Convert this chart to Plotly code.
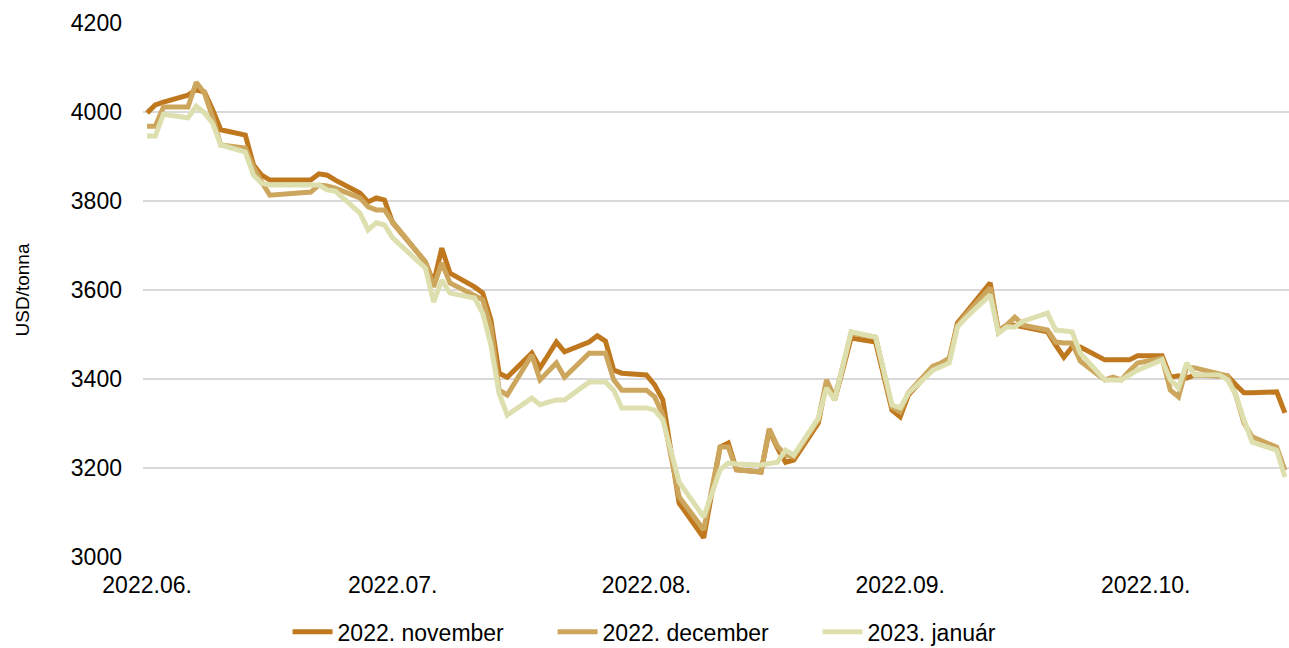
import plotly.graph_objects as go

# Trading days (June - October 2022)
dates = [
    "2022-06-01", "2022-06-02", "2022-06-03", "2022-06-06", "2022-06-07", "2022-06-08", "2022-06-09",
    "2022-06-10", "2022-06-13", "2022-06-14", "2022-06-15", "2022-06-16", "2022-06-21", "2022-06-22",
    "2022-06-23", "2022-06-24", "2022-06-27", "2022-06-28", "2022-06-29", "2022-06-30",
    "2022-07-01", "2022-07-05", "2022-07-06", "2022-07-07", "2022-07-08", "2022-07-11", "2022-07-12",
    "2022-07-13", "2022-07-14", "2022-07-15", "2022-07-18", "2022-07-19", "2022-07-20", "2022-07-21",
    "2022-07-22", "2022-07-25", "2022-07-26", "2022-07-27", "2022-07-28", "2022-07-29",
    "2022-08-01", "2022-08-02", "2022-08-03", "2022-08-04", "2022-08-05", "2022-08-08", "2022-08-09",
    "2022-08-10", "2022-08-11", "2022-08-12", "2022-08-15", "2022-08-16", "2022-08-17", "2022-08-18",
    "2022-08-19", "2022-08-22", "2022-08-23", "2022-08-24", "2022-08-25", "2022-08-26", "2022-08-29",
    "2022-08-30", "2022-08-31",
    "2022-09-01", "2022-09-02", "2022-09-05", "2022-09-06", "2022-09-07", "2022-09-08", "2022-09-09",
    "2022-09-12", "2022-09-13", "2022-09-14", "2022-09-15", "2022-09-16", "2022-09-19", "2022-09-20",
    "2022-09-21", "2022-09-22", "2022-09-23", "2022-09-26", "2022-09-27", "2022-09-28", "2022-09-29",
    "2022-09-30",
    "2022-10-03", "2022-10-04", "2022-10-05", "2022-10-06", "2022-10-07", "2022-10-10", "2022-10-11",
    "2022-10-12", "2022-10-13", "2022-10-14", "2022-10-17", "2022-10-18",
]

# Futures prices, USD/tonna
nov_2022 = [
    3998, 4016, 4022, 4038, 4050, 4045, 4005, 3960, 3948, 3881, 3858, 3847, 3847, 3861, 3858, 3847,
    3818, 3798, 3807, 3802,
    3751, 3663, 3616, 3694, 3638, 3607, 3593, 3533, 3413, 3404, 3458, 3425, 3454, 3483, 3461, 3483,
    3497, 3485, 3420, 3413,
    3409, 3387, 3353, 3240, 3121, 3043, 3139, 3247, 3256, 3196, 3191, 3285, 3245, 3213, 3218, 3301,
    3393, 3353, 3422, 3492, 3483, 3407, 3330,
    3315, 3364, 3425, 3431, 3443, 3526, 3548, 3616, 3506, 3521, 3521, 3517, 3506, 3476, 3449, 3472,
    3472, 3443, 3443, 3443, 3443, 3452,
    3452, 3404, 3407, 3402, 3409, 3407, 3407, 3387, 3369, 3369, 3371, 3324,
]

dec_2022 = [
    3968, 3968, 4011, 4011, 4067, 4043, 3989, 3926, 3919, 3876, 3843, 3813, 3820, 3836, 3834, 3829,
    3807, 3787, 3780, 3780,
    3753, 3663, 3607, 3661, 3616, 3589, 3578, 3517, 3375, 3364, 3454, 3398, 3418, 3436, 3404, 3458,
    3458, 3458, 3398, 3375,
    3375, 3360, 3319, 3229, 3135, 3061, 3155, 3247, 3247, 3196, 3191, 3288, 3249, 3229, 3225, 3308,
    3398, 3357, 3429, 3503, 3494, 3416, 3337,
    3326, 3369, 3429, 3436, 3447, 3521, 3544, 3605, 3510, 3521, 3539, 3521, 3510, 3483, 3481, 3481,
    3440, 3398, 3404, 3398, 3418, 3436,
    3447, 3375, 3360, 3427, 3425, 3411, 3407, 3364, 3301, 3270, 3247, 3195,
]

jan_2023 = [
    3946, 3946, 3995, 3987, 4013, 3998, 3975, 3926, 3910, 3858, 3840, 3836, 3836, 3836, 3825, 3822,
    3773, 3735, 3751, 3746,
    3717, 3649, 3573, 3622, 3593, 3582, 3548, 3476, 3368, 3319, 3357, 3342, 3348, 3353, 3353, 3393,
    3393, 3393, 3375, 3335,
    3335, 3330, 3308, 3240, 3168, 3090, 3146, 3196, 3211, 3209, 3207, 3209, 3213, 3240, 3229, 3312,
    3380, 3353, 3429, 3506, 3494, 3418, 3342,
    3335, 3368, 3420, 3427, 3436, 3517, 3537, 3589, 3503, 3517, 3517, 3530, 3548, 3510, 3508, 3506,
    3458, 3398, 3398, 3398, 3409, 3420,
    3443, 3398, 3380, 3436, 3409, 3409, 3398, 3364, 3308, 3258, 3240, 3180,
]

series_names = ["2022. november", "2022. december", "2023. január"]
series_colors = ["#C0781E", "#CDA65E", "#DDE0AE"]

month_ticks = ["2022-06-01", "2022-07-01", "2022-08-01", "2022-09-01", "2022-10-01"]
month_labels = ["2022.06.", "2022.07.", "2022.08.", "2022.09.", "2022.10."]

font_family = "Liberation Sans, Arial, sans-serif"

fig = go.Figure()
for name, values, color in zip(series_names, [nov_2022, dec_2022, jan_2023], series_colors):
    fig.add_trace(go.Scatter(
        x=dates, y=values, name=name, mode="lines",
        line=dict(color=color, width=5),
    ))

fig.update_layout(
    width=1289, height=648,
    margin=dict(l=143, r=0, t=23, b=91, autoexpand=False),
    paper_bgcolor="white", plot_bgcolor="white",
    font=dict(family=font_family, size=23, color="#000000"),
    showlegend=True,
    legend=dict(
        orientation="h", x=0.473, xanchor="center",
        yref="container", y=0.025, yanchor="middle",
        font=dict(size=23), itemwidth=40, traceorder="normal",
        entrywidth=210, entrywidthmode="pixels",
    ),
)

fig.update_xaxes(
    type="date",
    range=["2022-05-31 12:00", "2022-10-18 12:00"],
    tickvals=month_ticks, ticktext=month_labels,
    showgrid=False, zeroline=False, showline=False,
    ticks="", ticklabelstandoff=12,
    tickfont=dict(size=23, color="#000000"),
)

fig.update_yaxes(
    range=[3000, 4200],
    tickvals=[3000, 3200, 3400, 3600, 3800, 4000, 4200],
    showgrid=True, gridcolor="#D9D9D9", gridwidth=2,
    zeroline=False, showline=False,
    ticks="", ticklabelstandoff=20,
    tickfont=dict(size=23, color="#000000"),
    title=dict(text="USD/tonna", font=dict(size=19, color="#000000"), standoff=36),
)

fig.write_html("out.html")
